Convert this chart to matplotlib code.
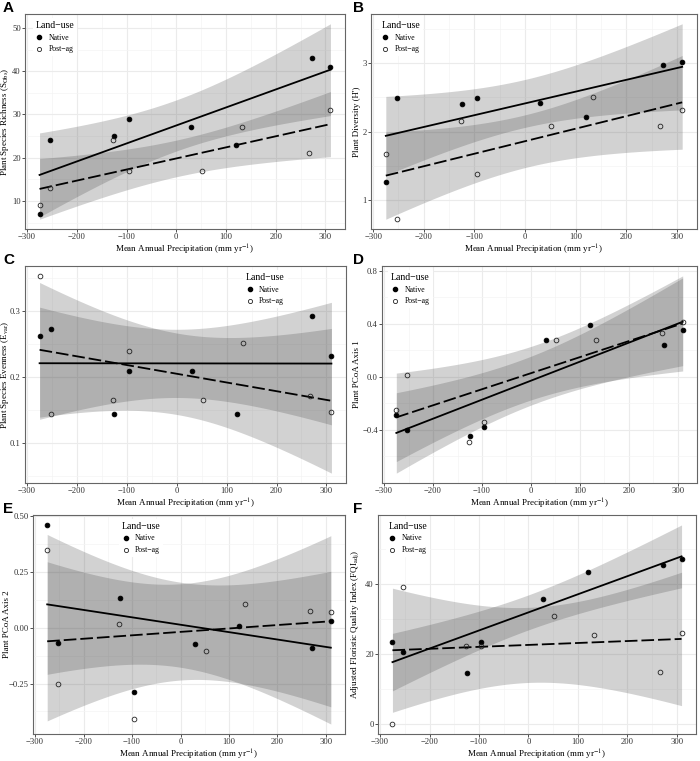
import numpy as np
import matplotlib
matplotlib.use("Agg")
import matplotlib.pyplot as plt
from matplotlib.lines import Line2D
from matplotlib.ticker import FixedLocator

plt.rcParams['font.family'] = ['Liberation Serif', 'DejaVu Serif']
plt.rcParams['mathtext.fontset'] = 'stix'

# ---------------- data ----------------
precip_native = [-275, -253, -125, -95, 30, 120, 272, 310]
precip_postag = [-275, -253, -127, -95, 52, 133, 267, 310]

richness_native = [7, 24, 25, 29, 27, 23, 43, 41]
richness_postag = [9, 13, 24, 17, 17, 27, 21, 31]

diversity_native = [1.27, 2.49, 2.40, 2.49, 2.42, 2.22, 2.97, 3.01]
diversity_postag = [1.67, 0.72, 2.15, 1.38, 2.08, 2.51, 2.08, 2.31]

evenness_native = [0.262, 0.272, 0.145, 0.209, 0.209, 0.145, 0.292, 0.232]
evenness_postag = [0.353, 0.145, 0.166, 0.239, 0.165, 0.252, 0.172, 0.147]

pcoa1_native = [-0.29, -0.40, -0.45, -0.38, 0.28, 0.39, 0.24, 0.35]
pcoa1_postag = [-0.25, 0.01, -0.49, -0.34, 0.28, 0.28, 0.33, 0.41]

pcoa2_native = [0.46, -0.067, 0.133, -0.286, -0.074, 0.007, -0.092, 0.03]
pcoa2_postag = [0.35, -0.251, 0.015, -0.407, -0.104, 0.104, 0.074, 0.07]

fqi_native = [23.5, 20.7, 14.7, 23.5, 35.9, 43.5, 45.5, 47.3]
fqi_postag = [0.0, 39.2, 22.2, 22.2, 31.0, 25.5, 15.0, 26.0]

x_ticks = [-300, -200, -100, 0, 100, 200, 300]
x_title = r'Mean Annual Precipitation (mm yr$^{-1}$)'
legend_title = 'Land\u2212use'
legend_labels = ['Native', 'Post\u2212ag']

panels = [
    dict(letter='A', yn=richness_native, yp=richness_postag,
         ylabel=r'Plant Species Richness (S$_{\mathrm{Obs}}$)',
         yticks=[10, 20, 30, 40, 50], fmt='{:.0f}', box=(25, 14, 345, 229), leg=0.012),
    dict(letter='B', yn=diversity_native, yp=diversity_postag,
         ylabel="Plant Diversity (H')",
         yticks=[1, 2, 3], fmt='{:.0f}', box=(371, 14, 697, 229), leg=0.012),
    dict(letter='C', yn=evenness_native, yp=evenness_postag,
         ylabel=r'Plant Species Evenness (E$_{\mathrm{var}}$)',
         yticks=[0.1, 0.2, 0.3], fmt='{:.1f}', box=(25, 266, 346, 483), leg=0.668),
    dict(letter='D', yn=pcoa1_native, yp=pcoa1_postag,
         ylabel='Plant PCoA Axis 1',
         yticks=[-0.4, 0.0, 0.4, 0.8], fmt='{:.1f}', box=(382, 266, 697, 483), leg=0.008),
    dict(letter='E', yn=pcoa2_native, yp=pcoa2_postag,
         ylabel='Plant PCoA Axis 2',
         yticks=[-0.25, 0.0, 0.25, 0.5], fmt='{:.2f}', box=(33, 515, 345, 734), leg=0.263),
    dict(letter='F', yn=fqi_native, yp=fqi_postag,
         ylabel=r'Adjusted Floristic Quality Index (FQI$_{\mathrm{adj}}$)',
         yticks=[0, 20, 40], fmt='{:.0f}', box=(378, 515, 696, 734), leg=0.012),
]

W, H = 700, 761
fig = plt.figure(figsize=(W / 100, H / 100), dpi=100)

T_CRIT = 2.4469  # t(0.975, df=6)
BAND_COLOR = '#444444'
BAND_ALPHA = 0.24


def lm_fit(x, y, n=80):
    x = np.asarray(x, float)
    y = np.asarray(y, float)
    b, a = np.polyfit(x, y, 1)
    resid = y - (a + b * x)
    s = np.sqrt(np.sum(resid ** 2) / (len(x) - 2))
    xm = x.mean()
    sxx = np.sum((x - xm) ** 2)
    xs = np.linspace(x.min(), x.max(), n)
    fit = a + b * xs
    se = s * np.sqrt(1 / len(x) + (xs - xm) ** 2 / sxx)
    return xs, fit, fit - T_CRIT * se, fit + T_CRIT * se


def fmt_num(v, fmt):
    return ('\u2212' + fmt.format(-v)) if v < 0 else fmt.format(v)


for p in panels:
    l, t, r, b = p['box']
    ax = fig.add_axes([l / W, 1 - b / H, (r - l) / W, (b - t) / H])
    ax.set_facecolor('white')

    allx, ally = [], []
    fits = []
    for xv, yv, ls in ((precip_native, p['yn'], '-'), (precip_postag, p['yp'], (0, (7, 2.2)))):
        xs, fit, lo, hi = lm_fit(xv, yv)
        fits.append((xs, fit, lo, hi, ls))
        allx += list(xv)
        ally += list(yv) + list(lo) + list(hi)

    for xs, fit, lo, hi, ls in fits:
        ax.fill_between(xs, lo, hi, color=BAND_COLOR, alpha=BAND_ALPHA, lw=0, zorder=2)
    for xs, fit, lo, hi, ls in fits:
        ax.plot(xs, fit, color='black', lw=1.3, ls=ls, zorder=3)

    ax.plot(precip_native, p['yn'], ls='', marker='o', ms=3.4, mfc='black', mec='black',
            mew=0.6, zorder=4)
    ax.plot(precip_postag, p['yp'], ls='', marker='o', ms=3.4, mfc='none', mec='#222222',
            mew=0.6, zorder=4)

    x0, x1 = min(allx), max(allx)
    dx = (x1 - x0) * 0.05
    ax.set_xlim(x0 - dx, x1 + dx)
    y0, y1 = min(ally), max(ally)
    dy = (y1 - y0) * 0.05
    ax.set_ylim(y0 - dy, y1 + dy)

    ax.xaxis.set_major_locator(FixedLocator(x_ticks))
    ax.xaxis.set_minor_locator(FixedLocator([v + 50 for v in x_ticks[:-1]] + [-350, 350]))
    yt = p['yticks']
    step = yt[1] - yt[0]
    ax.yaxis.set_major_locator(FixedLocator(yt))
    ax.yaxis.set_minor_locator(FixedLocator([yt[0] - step / 2] + [v + step / 2 for v in yt]))
    ax.set_xticklabels([fmt_num(v, '{:.0f}') for v in x_ticks])
    ax.set_yticklabels([fmt_num(v, p['fmt']) for v in yt])

    ax.grid(True, which='major', color='#ebebeb', lw=0.8, zorder=0)
    ax.grid(True, which='minor', color='#f4f4f4', lw=0.5, zorder=0)
    ax.set_axisbelow(True)
    for sp in ax.spines.values():
        sp.set_color('#666666')
        sp.set_linewidth(0.8)
    ax.tick_params(which='major', direction='out', length=2.0, width=0.6, color='#333333',
                   labelsize=6.2, labelcolor='#333333', pad=1.0)
    ax.tick_params(which='minor', length=0)

    ax.set_xlabel(x_title, fontsize=6.5, labelpad=1.5)
    ax.set_ylabel(p['ylabel'], fontsize=6.5)
    lab_right = 11 if p['letter'] in 'ACE' else 361
    ax.yaxis.set_label_coords(lab_right / W, 1 - ((t + b) / 2) / H, transform=fig.transFigure)

    handles = [Line2D([], [], ls='', marker='o', ms=3.0, mfc='black', mec='black'),
               Line2D([], [], ls='', marker='o', ms=3.0, mfc='none', mec='#222222', mew=0.6)]
    leg = ax.legend(handles, legend_labels, title=legend_title, loc='upper left',
                    bbox_to_anchor=(p['leg'], 1.0), fontsize=5.6, title_fontsize=7.0,
                    frameon=True, facecolor='white', edgecolor='none', framealpha=1,
                    handlelength=1.0, handletextpad=0.7, labelspacing=0.5,
                    borderpad=0.35, alignment='left')
    leg.set_zorder(5)

    lx = 3 if p['letter'] in 'ACE' else 353
    fig.text(lx / W, 1 - (t - 2) / H, p['letter'], fontsize=11, fontweight='bold',
             family='Liberation Sans', va='baseline', ha='left')

fig.savefig('out.png', dpi=100)
